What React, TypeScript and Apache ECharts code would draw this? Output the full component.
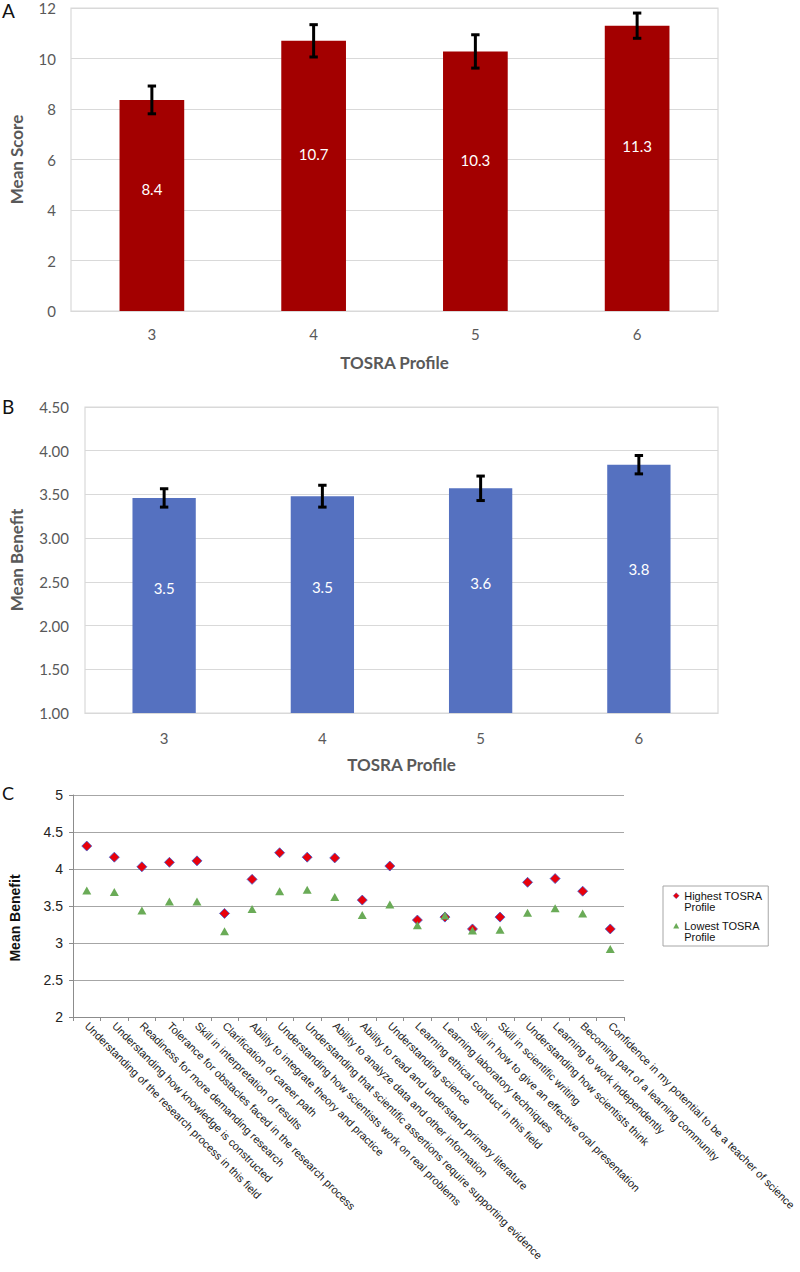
import { useEffect, useRef } from "react";
import * as echarts from "echarts";

// ---------- data ----------
const profiles = ["3", "4", "5", "6"];
const meanScore = [8.36, 10.7, 10.28, 11.3];
const meanScoreErr = [0.55, 0.64, 0.66, 0.5];
const meanBenefit = [3.46, 3.48, 3.57, 3.84];
const meanBenefitErr = [0.105, 0.125, 0.14, 0.105];

const gains = [
  "Understanding of the research process in this field",
  "Understanding how knowledge is constructed",
  "Readiness for more demanding research",
  "Tolerance for obstacles faced in the research process",
  "Skill in interpretation of results",
  "Clarification of career path",
  "Ability to integrate theory and practice",
  "Understanding how scientists work on real problems",
  "Understanding that scientific assertions require supporting evidence",
  "Ability to analyze data and other information",
  "Ability to read and understand primary literature",
  "Understanding science",
  "Learning ethical conduct in this field",
  "Learning laboratory techniques",
  "Skill in how to give an effective oral presentation",
  "Skill in scientific writing",
  "Understanding how scientists think",
  "Learning to work independently",
  "Becoming part of a learning community",
  "Confidence in my potential to be a teacher of science",
];
const highest = [4.31, 4.16, 4.03, 4.09, 4.11, 3.4, 3.86, 4.22, 4.16, 4.15, 3.58, 4.04, 3.31, 3.35, 3.19, 3.35, 3.82, 3.87, 3.7, 3.19];
const lowest = [3.71, 3.69, 3.44, 3.56, 3.56, 3.16, 3.46, 3.7, 3.72, 3.62, 3.38, 3.52, 3.24, 3.37, 3.17, 3.18, 3.41, 3.47, 3.4, 2.92];

const seriesHigh = "Highest TOSRA Profile";
const seriesLow = "Lowest TOSRA Profile";

// ---------- helpers ----------
const CAL = "Lato, 'Open Sans', sans-serif";
const ARIAL = "'Liberation Sans', Arial, sans-serif";
const GREY_TXT = "#595959";
const GRID_LIGHT = "#d9d9d9";

function errorBars(axisIndex: number, means: number[], errs: number[]) {
  return {
    type: "custom",
    xAxisIndex: axisIndex,
    yAxisIndex: axisIndex,
    z: 10,
    encode: { x: 0, y: [1, 2] },
    data: means.map((m, i) => [i, m - errs[i], m + errs[i]]),
    renderItem: (_p: any, api: any) => {
      const lo = api.coord([api.value(0), api.value(1)]);
      const hi = api.coord([api.value(0), api.value(2)]);
      const hw = 4.2;
      const style = { stroke: "#000", lineWidth: 3 };
      return {
        type: "group",
        children: [
          { type: "line", shape: { x1: lo[0], y1: lo[1], x2: hi[0], y2: hi[1] }, style },
          { type: "line", shape: { x1: lo[0] - hw, y1: lo[1], x2: lo[0] + hw, y2: lo[1] }, style },
          { type: "line", shape: { x1: hi[0] - hw, y1: hi[1], x2: hi[0] + hw, y2: hi[1] }, style },
        ],
      };
    },
  };
}

function barAxisX(gridIndex: number, labelMargin: number) {
  return {
    type: "category",
    gridIndex,
    data: profiles,
    name: "TOSRA Profile",
    nameLocation: "middle",
    nameGap: 43,
    nameTextStyle: { fontFamily: CAL, fontSize: 17, fontWeight: "bold", color: GREY_TXT },
    axisLine: { show: true, lineStyle: { color: GRID_LIGHT, width: 1.2 } },
    axisTick: { show: false },
    axisLabel: { fontFamily: CAL, fontSize: 15, color: GREY_TXT, margin: labelMargin },
  };
}

function barLabel() {
  return {
    show: true,
    position: ["50%", "42%"],
    align: "center",
    verticalAlign: "middle",
    color: "#ffffff",
    fontFamily: CAL,
    fontSize: 15,
    formatter: (p: any) => Number(p.value).toFixed(1),
  };
}

const diamondIcon = "path://M0 0M6 22M3 2.25L6 5.25L3 8.25L0 5.25Z";
const triangleIcon = "path://M0 0M6 22M3 2.5L6 8L0 8Z";

export default function App() {
  const ref = useRef<HTMLDivElement>(null);

  useEffect(() => {
    if (!ref.current) return;
    const chart = echarts.init(ref.current, null, { renderer: "svg" });

    const option: any = {
      animation: false,
      backgroundColor: "#ffffff",
      grid: [
        { left: 58, top: 8, width: 660, height: 303, show: true, borderColor: GRID_LIGHT, borderWidth: 1.2 },
        { left: 73, top: 407, width: 645, height: 306, show: true, borderColor: GRID_LIGHT, borderWidth: 1.2 },
        { left: 62, top: 795, width: 562, height: 222 },
      ],
      graphic: [
        { type: "text", left: 2, top: 1, style: { text: "A", fontFamily: CAL, fontSize: 19, fill: "#111" } },
        { type: "text", left: 2, top: 397, style: { text: "B", fontFamily: CAL, fontSize: 19, fill: "#111" } },
        { type: "text", left: 2, top: 784, style: { text: "C", fontFamily: CAL, fontSize: 18, fill: "#111" } },
      ],
      legend: {
        orient: "vertical",
        left: 663,
        top: 886,
        padding: [4, 6, 3, 10],
        borderColor: "#a6a6a6",
        borderWidth: 1,
        itemWidth: 6,
        itemHeight: 22,
        itemGap: 7,
        selectedMode: false,
        data: [
          { name: seriesHigh, icon: diamondIcon, itemStyle: { borderWidth: 0.4 } },
          { name: seriesLow, icon: triangleIcon },
        ],
        formatter: (n: string) => n.replace(" Profile", "\nProfile"),
        textStyle: { fontFamily: ARIAL, fontSize: 11, lineHeight: 11.5, color: "#111" },
      },
      xAxis: [
        barAxisX(0, 15),
        barAxisX(1, 17),
        {
          type: "category",
          gridIndex: 2,
          data: gains,
          boundaryGap: true,
          axisLine: { show: true, lineStyle: { color: "#8c8c8c", width: 1 } },
          axisTick: { show: true, interval: 0, length: 4, lineStyle: { color: "#8c8c8c" } },
          axisLabel: { interval: 0, rotate: -45, fontFamily: ARIAL, fontSize: 11, color: "#222", margin: 7 },
        },
      ],
      yAxis: [
        {
          type: "value",
          gridIndex: 0,
          min: 0,
          max: 12,
          interval: 2,
          name: "Mean Score",
          nameLocation: "middle",
          nameRotate: 90,
          nameGap: 46,
          nameTextStyle: { fontFamily: CAL, fontSize: 17, fontWeight: "bold", color: GREY_TXT },
          axisLine: { show: false },
          axisTick: { show: false },
          axisLabel: { fontFamily: CAL, fontSize: 15, color: GREY_TXT, margin: 15 },
          splitLine: { lineStyle: { color: GRID_LIGHT, width: 1.2 } },
        },
        {
          type: "value",
          gridIndex: 1,
          min: 1,
          max: 4.5,
          interval: 0.5,
          name: "Mean Benefit",
          nameLocation: "middle",
          nameRotate: 90,
          nameGap: 60,
          nameTextStyle: { fontFamily: CAL, fontSize: 17, fontWeight: "bold", color: GREY_TXT },
          axisLine: { show: false },
          axisTick: { show: false },
          axisLabel: { fontFamily: CAL, fontSize: 15, color: GREY_TXT, margin: 16, formatter: (v: number) => v.toFixed(2) },
          splitLine: { lineStyle: { color: GRID_LIGHT, width: 1.2 } },
        },
        {
          type: "value",
          gridIndex: 2,
          min: 2,
          max: 5,
          interval: 0.5,
          name: "Mean Benefit",
          nameLocation: "middle",
          nameRotate: 90,
          nameGap: 51,
          nameTextStyle: { fontFamily: ARIAL, fontSize: 14, fontWeight: "bold", color: "#111", padding: [0, 24, 0, 0] },
          axisLine: { show: true, lineStyle: { color: "#8c8c8c", width: 1 } },
          axisTick: { show: true, length: 4, lineStyle: { color: "#8c8c8c" } },
          axisLabel: { fontFamily: ARIAL, fontSize: 14, color: "#222", margin: 10 },
          splitLine: { lineStyle: { color: "#a6a6a6", width: 1 } },
        },
      ],
      series: [
        {
          type: "bar",
          xAxisIndex: 0,
          yAxisIndex: 0,
          data: meanScore,
          barWidth: "40%",
          itemStyle: { color: "#a30000" },
          label: barLabel(),
        },
        errorBars(0, meanScore, meanScoreErr),
        {
          type: "bar",
          xAxisIndex: 1,
          yAxisIndex: 1,
          data: meanBenefit,
          barWidth: "40%",
          itemStyle: { color: "#5571c0" },
          label: barLabel(),
        },
        errorBars(1, meanBenefit, meanBenefitErr),
        {
          type: "scatter",
          name: seriesHigh,
          xAxisIndex: 2,
          yAxisIndex: 2,
          data: highest,
          symbol: "diamond",
          symbolSize: [10, 10],
          itemStyle: { color: "#e8000b", borderColor: "#3d5bd0", borderWidth: 0.8, opacity: 1 },
        },
        {
          type: "scatter",
          name: seriesLow,
          xAxisIndex: 2,
          yAxisIndex: 2,
          data: lowest,
          symbol: "triangle",
          symbolSize: [9, 8],
          itemStyle: { color: "#6aab57", opacity: 1 },
        },
      ],
    };

    chart.setOption(option);
    return () => chart.dispose();
  }, []);

  return (
    <div
      ref={ref}
      style={{ position: "absolute", left: 0, top: 0, width: 800, height: 1272, background: "#fff" }}
    />
  );
}
